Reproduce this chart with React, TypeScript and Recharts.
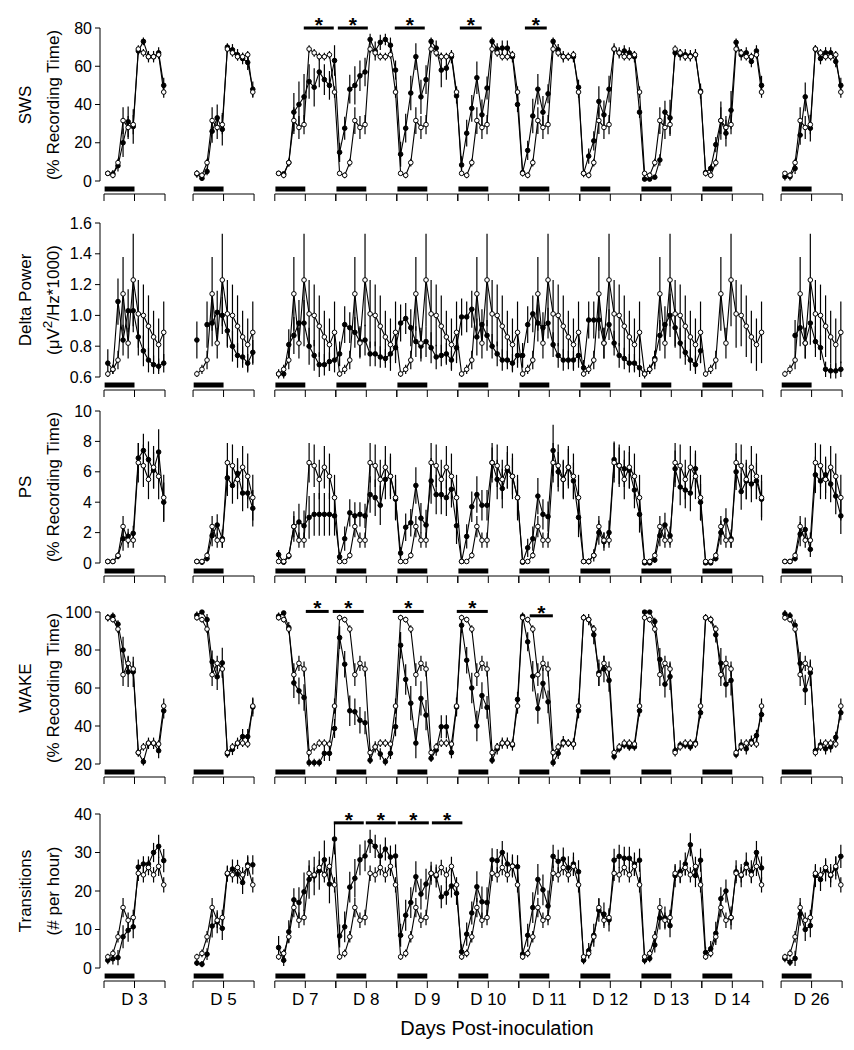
import React from 'react'
import { LineChart, Line, XAxis, YAxis, ErrorBar, ReferenceLine, ReferenceDot } from 'recharts'

// days post-inoculation, 12 two-hour bins per day (first 6 = dark phase)
const days = ['D 3', 'D 5', 'D 7', 'D 8', 'D 9', 'D 10', 'D 11', 'D 12', 'D 13', 'D 14', 'D 26']

// baseline (open circles) repeated on every day
const swsCtrl = [4, 3, 9.6, 31.6, 28, 29.5, 69, 67, 65, 65, 66, 46.5]
const swsCtrlErr = [1, 1.5, 2, 7, 6, 5, 2, 2, 2, 2, 2, 3]
const swsInf = [
  [4, 3.7, 8, 20, 31, 28.5, 68, 73, 65, 65, 67, 50],
  [3.7, 1.4, 5, 26, 33, 27, 70, 68.6, 66, 64, 62, 48],
  [4, 3.7, 9.6, 36, 40, 44, 52, 49, 57, 53, 50, 63],
  [15, 27.6, 48, 50, 55, 57, 74, 68, 72.5, 74, 71, 58],
  [14, 27.6, 46, 65, 44, 53, 73, 69.5, 58, 59, 65, 44.5],
  [8.4, 25, 38, 54, 34.6, 48.6, 73, 69, 69.5, 69.5, 65, 40],
  [4.4, 16, 34, 48, 36, 45.6, 73, 68.6, 65, 65, 65, 49],
  [4, 13, 21, 41.6, 34.6, 48, 69, 67, 68, 67, 65, 36],
  [1, 1, 2, 11, 36, 33, 67, 66, 66, 65.5, 66, 47],
  [4.4, 6.6, 19, 31.6, 25, 37, 72.5, 66, 67, 62.5, 68, 50],
  [2.3, 2.3, 6.6, 24, 44, 27.6, 69, 64, 67, 67, 62.5, 50],
]
const swsInfErr = [
  [1, 2, 3, 7.5, 8, 9, 2, 2, 3, 3, 3, 4],
  [2, 1, 2, 6, 7, 8.5, 2, 3, 3, 3, 4, 4],
  [1, 1, 2, 10, 12, 12, 9, 10, 8, 8, 7.5, 8],
  [5, 6, 7.5, 10, 8, 7.5, 3, 5, 4, 3, 4, 5],
  [6.5, 7.5, 9, 7, 9, 7.5, 2, 4, 9, 6, 3.5, 4],
  [4.5, 7, 7, 8.5, 8, 6, 2, 3, 4, 4, 3, 4],
  [2, 5, 9, 8, 8.5, 5, 2, 3, 3, 2, 3, 4],
  [2, 4, 5, 8, 7.5, 7, 3, 3, 3, 3, 3, 3],
  [1, 1, 1, 3, 6, 9.5, 2, 3, 3, 3, 3, 4],
  [2, 2, 4, 10, 7, 10, 2, 3, 3, 3, 3, 5],
  [2, 2, 3, 5, 7.5, 7, 2, 3, 3, 3, 3, 4],
]

const deltaCtrl = [0.62, 0.65, 0.71, 1.14, 0.82, 1.23, 1.01, 1.0, 0.93, 0.86, 0.81, 0.89]
const deltaCtrlErr = [0.02, 0.03, 0.06, 0.24, 0.1, 0.3, 0.22, 0.2, 0.2, 0.17, 0.17, 0.2]
const deltaInf = [
  [0.69, 0.65, 1.09, 0.84, 1.03, 1.03, 0.86, 0.77, 0.71, 0.68, 0.67, 0.69],
  [0.84, null, 0.94, 0.95, 1.02, 1.0, 0.9, 0.8, 0.74, 0.73, 0.69, 0.76],
  [0.62, 0.62, 0.81, 0.87, 0.95, 0.95, 0.8, 0.74, 0.68, 0.68, 0.7, 0.71],
  [0.75, 0.94, 0.92, 0.89, 0.83, 0.84, 0.75, 0.75, 0.73, 0.72, 0.75, 0.79],
  [0.95, 0.98, 0.92, 0.83, 0.8, 0.83, 0.79, 0.73, 0.74, 0.75, 0.71, 0.79],
  [0.99, 0.99, 1.04, 0.86, 0.94, 0.87, 0.8, 0.75, 0.71, 0.71, 0.69, 0.74],
  [0.74, 0.94, 1.01, 0.95, 0.92, 0.95, 0.81, 0.74, 0.71, 0.71, 0.71, 0.74],
  [0.66, 0.97, 0.97, 0.97, 0.82, 0.94, 0.82, 0.74, 0.72, 0.69, 0.69, 0.66],
  [0.62, 0.65, 0.72, 0.87, 0.94, 1.0, 0.92, 0.82, 0.76, 0.71, 0.68, 0.77],
  [null, null, null, null, null, null, null, null, null, null, null, null],
  [null, null, 0.87, 0.92, 0.82, 0.95, 0.83, 0.79, 0.65, 0.64, 0.64, 0.65],
]
const deltaInfErr = [
  [0.09, 0.03, 0.15, 0.1, 0.14, 0.14, 0.12, 0.1, 0.08, 0.06, 0.05, 0.06],
  [0.12, null, 0.15, 0.15, 0.14, 0.12, 0.1, 0.1, 0.08, 0.07, 0.06, 0.08],
  [0.03, 0.03, 0.1, 0.12, 0.15, 0.15, 0.12, 0.1, 0.08, 0.07, 0.06, 0.08],
  [0.08, 0.12, 0.1, 0.1, 0.1, 0.1, 0.08, 0.08, 0.07, 0.06, 0.06, 0.08],
  [0.12, 0.1, 0.12, 0.1, 0.1, 0.1, 0.1, 0.08, 0.07, 0.07, 0.06, 0.08],
  [0.12, 0.1, 0.12, 0.12, 0.1, 0.1, 0.08, 0.08, 0.07, 0.06, 0.06, 0.08],
  [0.08, 0.12, 0.12, 0.12, 0.1, 0.1, 0.08, 0.08, 0.07, 0.06, 0.06, 0.08],
  [0.05, 0.12, 0.12, 0.12, 0.1, 0.1, 0.08, 0.08, 0.07, 0.06, 0.06, 0.06],
  [0.03, 0.03, 0.05, 0.1, 0.12, 0.14, 0.12, 0.1, 0.08, 0.07, 0.06, 0.08],
  [null, null, null, null, null, null, null, null, null, null, null, null],
  [null, null, 0.1, 0.12, 0.1, 0.14, 0.1, 0.08, 0.05, 0.05, 0.05, 0.05],
]

const psCtrl = [0.1, 0.1, 0.5, 2.4, 1.5, 1.5, 6.6, 6.4, 5.5, 6.3, 5.7, 4.3]
const psCtrlErr = [0.05, 0.05, 0.2, 0.7, 0.5, 0.5, 1.3, 1.4, 1.3, 1.4, 1.5, 1.5]
const psInf = [
  [0.1, 0.1, 0.45, 1.6, 1.75, 1.95, 6.9, 7.4, 6.8, 6.1, 7.3, 4.0],
  [0.1, 0.05, 0.3, 1.8, 2.5, 1.6, 5.6, 5.1, 5.9, 4.6, 4.6, 3.6],
  [0.55, 0.05, 0.45, 2.4, 2.7, 2.45, 3.0, 3.2, 3.2, 3.2, 3.2, 3.1],
  [0.4, 1.6, 3.3, 3.1, 3.2, 3.1, 4.5, 4.3, 3.8, 5.5, 5.7, 4.2],
  [0.65, 2.35, 2.65, 5.1, 2.95, 2.5, 5.4, 4.5, 4.5, 4.3, 4.85, 2.45],
  [0.1, 1.75, 3.7, 4.5, 3.8, 3.8, 6.6, 5.5, 4.9, 6.1, 5.7, 4.3],
  [0.05, 1.0, 1.6, 4.4, 3.2, 3.05, 7.4, 6.0, 5.5, 6.3, 5.4, 3.0],
  [0.1, 0.1, 0.5, 2.0, 1.4, 2.0, 6.8, 6.4, 6.2, 6.1, 4.8, 3.2],
  [0.0, 0.0, 0.2, 1.8, 2.5, 1.8, 6.2, 5.0, 4.8, 4.6, 6.2, 4.0],
  [0.0, 0.0, 0.3, 2.0, 2.8, 1.6, 6.0, 4.7, 5.4, 5.2, 5.4, 4.2],
  [0.1, 0.1, 0.3, 1.9, 2.2, 0.9, 5.8, 5.4, 5.8, 5.2, 4.4, 3.1],
]
const psInfErr = [
  [0.05, 0.05, 0.2, 0.8, 0.5, 0.5, 1.0, 1.1, 1.2, 1.2, 1.5, 1.3],
  [0.05, 0.05, 0.2, 0.7, 0.7, 0.6, 1.2, 1.2, 1.0, 1.2, 1.0, 1.2],
  [0.3, 0.05, 0.2, 1.0, 1.2, 1.0, 1.4, 1.4, 1.4, 1.4, 1.4, 1.3],
  [0.3, 0.8, 0.9, 0.9, 0.8, 0.8, 1.2, 1.2, 1.3, 1.3, 1.3, 1.3],
  [0.4, 0.9, 0.9, 1.2, 1.0, 1.0, 1.5, 1.3, 1.3, 1.2, 1.2, 1.2],
  [0.1, 0.8, 1.0, 1.2, 1.0, 1.0, 1.0, 1.3, 1.3, 1.2, 1.2, 1.2],
  [0.05, 0.6, 0.8, 1.2, 1.0, 1.0, 1.7, 1.3, 1.2, 1.2, 1.2, 1.3],
  [0.05, 0.2, 0.4, 0.8, 0.6, 0.8, 1.2, 1.2, 1.2, 1.2, 1.2, 1.2],
  [0.05, 0.05, 0.2, 0.7, 0.8, 0.6, 1.2, 1.2, 1.2, 1.2, 1.2, 1.2],
  [0.05, 0.05, 0.2, 0.8, 0.8, 0.6, 1.2, 1.2, 1.2, 1.2, 1.2, 1.2],
  [0.05, 0.05, 0.2, 0.8, 0.8, 0.5, 1.2, 1.2, 1.2, 1.2, 1.2, 1.2],
]

const wakeCtrl = [97, 96, 91, 67, 73, 70, 26, 29, 31, 31, 30.5, 50.5]
const wakeCtrlErr = [1.5, 1.5, 2, 6, 4, 4, 2, 2, 2, 2, 2, 4]
const wakeInf = [
  [97, 97.8, 93.6, 80, 68.5, 68.5, 26, 21.2, 30.9, 30.9, 27, 48],
  [98.3, 100, 96, 73.8, 65.9, 73.2, 25.3, 27.7, 30.9, 34.4, 34.4, 50],
  [97.8, 99.5, 91.8, 62.7, 58.5, 55, 20.7, 20.7, 20.7, 25.6, 25.6, 38.7],
  [86.5, 72.5, 48, 47.5, 43, 41.7, 22, 29, 25.3, 21.2, 25.6, 39.6],
  [82.5, 64.5, 52, 31, 54.5, 45.7, 23, 27.4, 39.6, 39.6, 26, 50],
  [93, 74.6, 60, 40, 56, 49.8, 22, 28, 31, 31, 30, 54],
  [97.8, 84.3, 66.2, 49.2, 62.4, 52.7, 20.7, 25.6, 31.7, 30.9, 30.5, 48],
  [97, 96, 88, 68, 70, 64, 24, 28, 30, 29, 29, 48],
  [100, 100, 95, 75, 62, 66, 27, 30, 30, 29, 31, 47],
  [97, 96, 88, 73, 62, 64, 25, 30, 28, 32, 35, 46],
  [99, 98, 93, 73, 59, 68, 27, 30, 28, 29, 34, 47],
]
const wakeInfErr = [
  [2, 2, 2, 7, 8, 8, 2, 2, 3, 3, 4, 4],
  [2, 1, 3, 6, 7, 8, 2, 3, 3, 4, 4, 5],
  [2, 1, 3, 8, 7, 7, 2, 2, 2, 4, 4, 5],
  [6, 7, 8, 7, 7, 6, 2, 3, 3, 2, 3, 5],
  [7, 8, 9, 8, 9, 8, 2, 3, 6, 6, 3, 5],
  [4, 7, 8, 8, 7, 6, 2, 3, 3, 3, 3, 4],
  [2, 5, 8, 8, 8, 6, 2, 3, 3, 2, 3, 4],
  [2, 3, 5, 7, 7, 6, 2, 2, 2, 2, 2, 3],
  [1, 1, 2, 6, 7, 7, 2, 2, 2, 2, 2, 3],
  [2, 2, 4, 8, 7, 8, 2, 3, 3, 3, 3, 4],
  [2, 2, 3, 6, 8, 7, 2, 3, 3, 3, 3, 4],
]

const transCtrl = [2.9, 3.8, 8.1, 15.7, 12.4, 13.1, 24.6, 24.2, 26.1, 24.2, 26.4, 21.6]
const transCtrlErr = [0.8, 1, 1.5, 2.5, 2, 2, 2, 2, 2, 2, 2.5, 2]
const transInf = [
  [2, 2.4, 2.7, 8.1, 9.8, 10.7, 26.2, 27, 27, 30, 31.6, 27.9],
  [1.3, 1, 3.6, 10.9, 12, 10.3, 24.4, 25.7, 24.4, 22.2, 26.8, 26.8],
  [5.3, 2, 9.4, 17.7, 17, 19.8, 23, 23.9, 25.3, 28.1, 21.8, 33.5],
  [8.3, 10.7, 21, 23.3, 28.1, 29.1, 32.9, 31.6, 29.1, 30.9, 28.8, 29.1],
  [8.5, 13.7, 17, 23.7, 19.2, 21.8, 24.6, 23.9, 18.5, 19.4, 21.3, 19.4],
  [4.2, 8.8, 14.3, 21.1, 17.2, 17, 28.1, 27.9, 30, 27, 26.5, 26.3],
  [3.6, 8.5, 15.7, 23, 20.3, 16.1, 29, 27.7, 28.3, 26, 27, 25],
  [2, 4.5, 8.5, 15, 14, 12.5, 28, 29, 28.5, 28.5, 27, 28],
  [2, 2.5, 6, 13, 13, 11, 24, 25, 27, 32, 24, 28],
  [4, 5, 9, 18, 20, 13, 25, 24, 27, 25, 30, 26],
  [2.5, 1.5, 2.5, 14, 10, 11, 24, 23, 25.5, 24, 26, 29],
]
const transInfErr = [
  [1, 1.5, 2, 3, 3, 3, 2, 2, 2, 2.5, 3, 3],
  [0.8, 0.8, 1.5, 3, 3, 3, 2, 2.5, 2.5, 3, 2.5, 2.5],
  [3, 1.5, 3, 3, 4, 5, 5, 5, 5, 5, 5, 4],
  [3, 4, 4, 5, 4, 4, 3, 3, 3, 3, 3, 3],
  [3, 4, 4, 4, 4, 4, 3, 3, 3, 3, 3, 3],
  [2, 3, 3, 4, 4, 4, 3, 3, 3, 3, 3, 3],
  [1.5, 3, 4, 4, 4, 4, 3, 3, 3, 3, 3, 3],
  [1, 2, 3, 3, 3, 3, 3, 3, 3, 3, 3, 3],
  [1, 1, 2, 3, 3, 3, 3, 3, 3, 3, 3, 3],
  [1.5, 2, 3, 3, 3, 3, 3, 3, 3, 3, 3, 3],
  [1, 1, 2, 3, 3, 3, 3, 3, 3, 3, 3, 3],
]

// significance bars: day index, from hour, to hour, level on the y scale
type Sig = { day: number; from: number; to: number; level: number }
const swsSig: Sig[] = [
  { day: 2, from: 11.4, to: 23.2, level: 80 },
  { day: 3, from: 0.8, to: 12.6, level: 80 },
  { day: 4, from: -0.8, to: 11, level: 80 },
  { day: 5, from: 0.8, to: 9.4, level: 80 },
  { day: 6, from: 2.4, to: 11, level: 80 },
]
const wakeSig: Sig[] = [
  { day: 2, from: 12.2, to: 21.2, level: 100.3 },
  { day: 3, from: -1.2, to: 11, level: 100.3 },
  { day: 4, from: -1.6, to: 10.6, level: 100.3 },
  { day: 5, from: -0.4, to: 11.8, level: 100.3 },
  { day: 6, from: 4.3, to: 13.4, level: 98 },
]
const transSig: Sig[] = [
  { day: 3, from: -0.8, to: 11, level: 37.7 },
  { day: 3, from: 11.8, to: 23.6, level: 37.7 },
  { day: 4, from: 0.4, to: 12.6, level: 37.7 },
  { day: 4, from: 13.8, to: 25.8, level: 37.7 },
]

// layout: empty space (in days) left before each day on the axis
const gapBefore = [0, 0.46, 0.34, 0, 0, 0, 0, 0, 0, 0, 0.3]
const dayStart: number[] = []
{
  let acc = 0
  gapBefore.forEach((g) => {
    acc += g
    dayStart.push(acc)
    acc += 1
  })
}
const X_MIN = -4 / 61
const X_MAX = X_MIN + 750 / 61
const FONT = '"Liberation Sans", Arial, Helvetica, sans-serif'

function buildRows(ctrl: number[], ctrlErr: number[], inf: (number | null)[][], infErr: (number | null)[][]) {
  const rows: any[] = []
  days.forEach((_, d) => {
    if (gapBefore[d] > 0) rows.push({ x: dayStart[d] - gapBefore[d] / 2, ctrl: null, inf: null })
    for (let i = 0; i < 12; i++) {
      const v = inf[d][i]
      rows.push({
        x: dayStart[d] + (i + 0.75) / 12,
        ctrl: ctrl[i],
        ctrlErr: ctrlErr[i],
        inf: v,
        infErr: v == null ? null : infErr[d][i],
      })
    }
  })
  return rows
}

interface PanelProps {
  plotTop: number
  plotH: number
  domain: [number, number]
  ticks: number[]
  fmt?: (v: number) => string
  title: React.ReactNode
  sub: React.ReactNode
  ctrl: number[]
  ctrlErr: number[]
  inf: (number | null)[][]
  infErr: (number | null)[][]
  sig?: Sig[]
  showDays?: boolean
}

const PAD_TOP = 32
const PAD_BOTTOM = 45

function Panel(p: PanelProps) {
  const [lo, hi] = p.domain
  const upp = (hi - lo) / p.plotH
  const below = (px: number) => lo - px * upp
  const rows = buildRows(p.ctrl, p.ctrlErr, p.inf, p.infErr)
  const axisY = below(13)
  const tickY = below(20)
  const barY = below(8)
  const midY = PAD_TOP + p.plotH / 2

  return (
    <div style={{ position: 'absolute', left: 0, top: p.plotTop - PAD_TOP, width: 854 }}>
      <LineChart
        width={854}
        height={PAD_TOP + p.plotH + PAD_BOTTOM}
        data={rows}
        margin={{ top: PAD_TOP, right: 4, bottom: PAD_BOTTOM, left: 0 }}
      >
        <XAxis type="number" dataKey="x" domain={[X_MIN, X_MAX]} allowDataOverflow hide />
        <YAxis
          type="number"
          domain={p.domain}
          ticks={p.ticks}
          allowDataOverflow
          width={100}
          tickFormatter={p.fmt}
          tick={{ fill: '#000', fontSize: 16 }}
          tickSize={5}
          tickMargin={3}
          axisLine={{ stroke: '#000' }}
          tickLine={{ stroke: '#000' }}
        />

        {/* axis pieces, ticks and dark-phase bars under each day */}
        {days.map((_, d) => (
          <ReferenceLine
            key={'ax' + d}
            segment={[{ x: dayStart[d], y: axisY }, { x: dayStart[d] + 1, y: axisY }]}
            stroke="#000"
            strokeWidth={1}
            ifOverflow="visible"
          />
        ))}
        {days.flatMap((_, d) =>
          [0, 0.5, 1].map((f) => (
            <ReferenceLine
              key={'tk' + d + '-' + f}
              segment={[{ x: dayStart[d] + f, y: axisY }, { x: dayStart[d] + f, y: tickY }]}
              stroke="#000"
              strokeWidth={1}
              ifOverflow="visible"
            />
          ))
        )}
        {days.map((_, d) => (
          <ReferenceLine
            key={'dk' + d}
            segment={[{ x: dayStart[d] + 0.01, y: barY }, { x: dayStart[d] + 0.5, y: barY }]}
            stroke="#000"
            strokeWidth={5}
            ifOverflow="visible"
          />
        ))}

        {(p.sig || []).map((s, k) => (
          <ReferenceLine
            key={'sg' + k}
            segment={[
              { x: dayStart[s.day] + s.from / 24, y: s.level },
              { x: dayStart[s.day] + s.to / 24, y: s.level },
            ]}
            stroke="#000"
            strokeWidth={3}
            ifOverflow="visible"
          />
        ))}
        {(p.sig || []).map((s, k) => (
          <ReferenceDot
            key={'st' + k}
            x={dayStart[s.day] + (s.from + s.to) / 48}
            y={s.level}
            r={0}
            ifOverflow="visible"
            shape={(props: any) => (
              <text x={props.cx} y={props.cy + 4} textAnchor="middle" fontSize={21} fontWeight="bold" fill="#000">
                *
              </text>
            )}
          />
        ))}

        {p.showDays &&
          days.map((label, d) => (
            <ReferenceDot
              key={'lb' + d}
              x={dayStart[d] + 0.5}
              y={below(31)}
              r={0}
              ifOverflow="visible"
              shape={(props: any) => (
                <text x={props.cx} y={props.cy + 6} textAnchor="middle" fontSize={17} fill="#000">
                  {label}
                </text>
              )}
            />
          ))}

        <Line
          dataKey="inf"
          stroke="#000"
          strokeWidth={1.1}
          isAnimationActive={false}
          activeDot={false}
          dot={{ r: 2.3, fill: '#000', stroke: '#000', strokeWidth: 1, clipDot: false } as any}
        >
          <ErrorBar dataKey="infErr" width={0} stroke="#000" strokeWidth={1.2} />
        </Line>
        <Line
          dataKey="ctrl"
          stroke="#000"
          strokeWidth={1.1}
          isAnimationActive={false}
          activeDot={false}
          dot={{ r: 2.3, fill: '#fff', stroke: '#000', strokeWidth: 1, clipDot: false } as any}
        >
          <ErrorBar dataKey="ctrlErr" width={0} stroke="#000" strokeWidth={1.2} />
        </Line>
      </LineChart>

      <div style={titleStyle(25, midY, 17)}>{p.title}</div>
      <div style={titleStyle(53, midY, 17)}>{p.sub}</div>
    </div>
  )
}

function titleStyle(cx: number, cy: number, size: number): React.CSSProperties {
  return {
    position: 'absolute',
    left: cx,
    top: cy,
    transform: 'translate(-50%, -50%) rotate(-90deg)',
    whiteSpace: 'nowrap',
    fontSize: size,
    lineHeight: 1,
    color: '#000',
  }
}

export default function App() {
  return (
    <div
      style={{
        position: 'absolute',
        left: 0,
        top: 0,
        width: 854,
        height: 1050,
        background: '#fff',
        fontFamily: FONT,
        overflow: 'hidden',
      }}
    >
      <Panel
        plotTop={28}
        plotH={153}
        domain={[0, 80]}
        ticks={[0, 20, 40, 60, 80]}
        title="SWS"
        sub="(% Recording Time)"
        ctrl={swsCtrl}
        ctrlErr={swsCtrlErr}
        inf={swsInf}
        infErr={swsInfErr}
        sig={swsSig}
      />
      <Panel
        plotTop={223}
        plotH={154}
        domain={[0.6, 1.6]}
        ticks={[0.6, 0.8, 1.0, 1.2, 1.4, 1.6]}
        fmt={(v) => v.toFixed(1)}
        title="Delta Power"
        sub={
          <span>
            (μV<span style={{ fontSize: '0.8em', verticalAlign: '0.45em', lineHeight: 0 }}>2</span>/Hz*1000)
          </span>
        }
        ctrl={deltaCtrl}
        ctrlErr={deltaCtrlErr}
        inf={deltaInf}
        infErr={deltaInfErr}
      />
      <Panel
        plotTop={411}
        plotH={152}
        domain={[0, 10]}
        ticks={[0, 2, 4, 6, 8, 10]}
        title="PS"
        sub="(% Recording Time)"
        ctrl={psCtrl}
        ctrlErr={psCtrlErr}
        inf={psInf}
        infErr={psInfErr}
      />
      <Panel
        plotTop={612}
        plotH={152}
        domain={[20, 100]}
        ticks={[20, 40, 60, 80, 100]}
        title="WAKE"
        sub="(% Recording Time)"
        ctrl={wakeCtrl}
        ctrlErr={wakeCtrlErr}
        inf={wakeInf}
        infErr={wakeInfErr}
        sig={wakeSig}
      />
      <Panel
        plotTop={814}
        plotH={154}
        domain={[0, 40]}
        ticks={[0, 10, 20, 30, 40]}
        title="Transitions"
        sub="(# per hour)"
        ctrl={transCtrl}
        ctrlErr={transCtrlErr}
        inf={transInf}
        infErr={transInfErr}
        sig={transSig}
        showDays
      />
      <div
        style={{
          position: 'absolute',
          left: 497,
          top: 1028,
          transform: 'translate(-50%, -50%)',
          fontSize: 20,
          whiteSpace: 'nowrap',
          color: '#000',
        }}
      >
        Days Post-inoculation
      </div>
    </div>
  )
}
